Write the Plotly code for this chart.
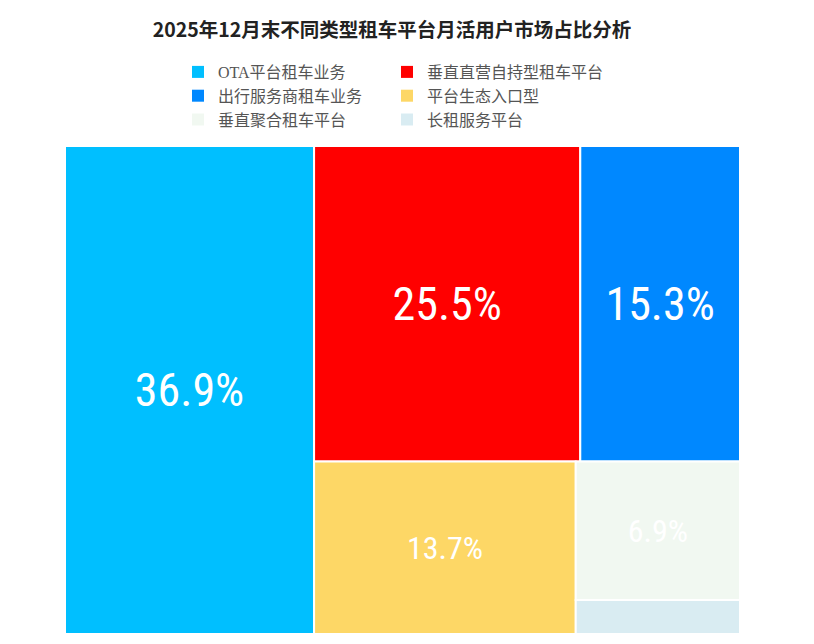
import plotly.graph_objects as go

# 2025年12月末 租车平台月活用户占比 (%)
platforms = ['OTA平台租车业务', '垂直直营自持型租车平台', '出行服务商租车业务',
             '平台生态入口型', '垂直聚合租车平台', '长租服务平台']
share = [36.9, 25.5, 15.3, 13.7, 6.9, 1.7]
colors = ['#00BFFF', '#FF0000', '#0088FF', '#FDD766', '#F1F8F1', '#D9ECF2']
label_sizes = [46, 46, 46, 32, 32, 32]

W, H = 814, 644


def px_x(v):
    return v / W


def px_y(v):
    return 1 - v / H


labels_txt = [f"{v}%" if v >= 5 else "" for v in share]

fig = go.Figure()

# legend only: two tiny pies hidden under the treemap (two legend columns)
legend_font = dict(family="Liberation Serif, Noto Sans CJK SC", size=16, color="#555555")
for k, lg in enumerate(["legend", "legend2"]):
    fig.add_trace(go.Pie(
        labels=platforms[k::2], values=share[k::2],
        marker=dict(colors=colors[k::2], line=dict(width=0)),
        sort=False, textinfo="none", hoverinfo="skip",
        legend=lg, showlegend=True,
        domain=dict(x=[0.2, 0.201], y=[0.4, 0.401]),
    ))

fig.add_trace(go.Treemap(
    labels=platforms,
    parents=[""] * len(platforms),
    values=share,
    text=labels_txt,
    textinfo="text",
    textposition="middle center",
    textfont=dict(family="Roboto Condensed, Noto Sans Condensed, Open Sans Condensed, "
                         "Liberation Sans Narrow, DejaVu Sans Condensed, Noto Sans",
                  size=label_sizes, color="white"),
    marker=dict(colors=colors, line=dict(color="white", width=2),
                pad=dict(t=0, l=0, r=0, b=0)),
    tiling=dict(packing="squarify", squarifyratio=1, pad=0),
    pathbar=dict(visible=False),
    sort=True,
    hoverinfo="label+value",
    domain=dict(x=[px_x(57), px_x(732)], y=[px_y(626), px_y(138)]),
))

fig.update_layout(
    width=W, height=H,
    margin=dict(l=0, r=0, t=0, b=0),
    paper_bgcolor="white",
    title=dict(text="<b>2025年12月末不同类型租车平台月活用户市场占比分析</b>",
               x=0.4717, xanchor="center", y=px_y(22), yanchor="middle",
               font=dict(family="Noto Sans CJK SC", size=19.5, color="#222222")),
    legend=dict(x=px_x(170), y=px_y(47), xanchor="left", yanchor="top",
                orientation="v", font=legend_font, bgcolor="rgba(0,0,0,0)"),
    legend2=dict(x=px_x(379), y=px_y(47), xanchor="left", yanchor="top",
                 orientation="v", font=legend_font, bgcolor="rgba(0,0,0,0)"),
)

fig.write_html("out.html")
